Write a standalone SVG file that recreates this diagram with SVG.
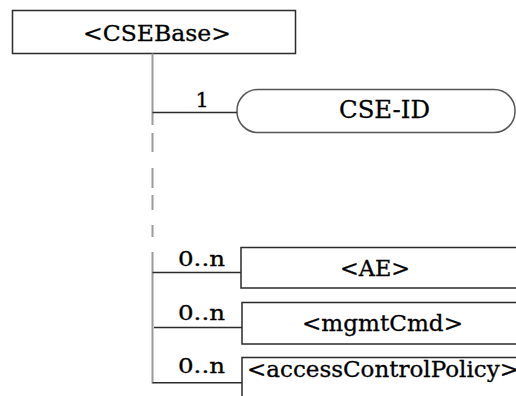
<svg xmlns="http://www.w3.org/2000/svg" width="516" height="396" viewBox="0 0 516 396">
  <style>
    .box { fill: #ffffff; stroke: #2b2b2b; stroke-width: 1.5; }
    .pill { fill: #ffffff; stroke: #555555; stroke-width: 1.5; }
    .trunk { fill: none; stroke: #9a9a9a; stroke-width: 2; }
    .branch { fill: none; stroke: #2b2b2b; stroke-width: 1.5; }
    .label { font-family: "DejaVu Serif", "Liberation Serif", serif; fill: #000000; stroke: #000000; stroke-width: 0.3; }
    .name { font-size: 22px; }
    .mult { font-size: 20.5px; }
  </style>

  <!-- root resource -->
  <g id="cseBase">
    <rect class="box" x="12.5" y="10.5" width="283" height="43"/>
    <text class="label name" x="83" y="40.5" textLength="148" lengthAdjust="spacingAndGlyphs">&lt;CSEBase&gt;</text>
  </g>

  <!-- attribute -->
  <g id="cseId">
    <rect class="pill" x="237" y="89.5" width="278" height="43" rx="21" ry="21"/>
    <text class="label" x="339" y="117.5" textLength="91" lengthAdjust="spacingAndGlyphs" style="font-size:24px">CSE-ID</text>
  </g>

  <!-- child resources -->
  <g id="ae">
    <rect class="box" x="241" y="247.5" width="290" height="40.5"/>
    <text class="label name" x="340" y="276" textLength="70" lengthAdjust="spacingAndGlyphs">&lt;AE&gt;</text>
  </g>

  <g id="mgmtCmd">
    <rect class="box" x="242" y="302.5" width="290" height="41.5"/>
    <text class="label name" x="302" y="330.5" textLength="161" lengthAdjust="spacingAndGlyphs">&lt;mgmtCmd&gt;</text>
  </g>

  <g id="accessControlPolicy">
    <rect class="box" x="242" y="357.5" width="290" height="50"/>
    <text class="label name" x="247" y="377" textLength="272" lengthAdjust="spacingAndGlyphs">&lt;accessControlPolicy&gt;</text>
  </g>

  <!-- connectors -->
  <g id="connectors">
    <path class="trunk" d="M152.5 53.5 V125 M152.5 133 V152 M152.5 168 V188 M152.5 195 V210 M152.5 225 V237 M152.5 252 V383.5"/>
    <path class="branch" d="M152.5 112.5 H237"/>
    <path class="branch" d="M152.5 272.5 H241"/>
    <path class="branch" d="M154 327.5 H242"/>
    <path class="branch" d="M152.5 382.8 H242"/>
    <text class="label" x="195.5" y="107" style="font-size:21px">1</text>
    <text class="label mult" x="178" y="266" textLength="47" lengthAdjust="spacingAndGlyphs">0..n</text>
    <text class="label mult" x="178" y="319.5" textLength="47" lengthAdjust="spacingAndGlyphs">0..n</text>
    <text class="label mult" x="178" y="373" textLength="47" lengthAdjust="spacingAndGlyphs">0..n</text>
  </g>
</svg>
